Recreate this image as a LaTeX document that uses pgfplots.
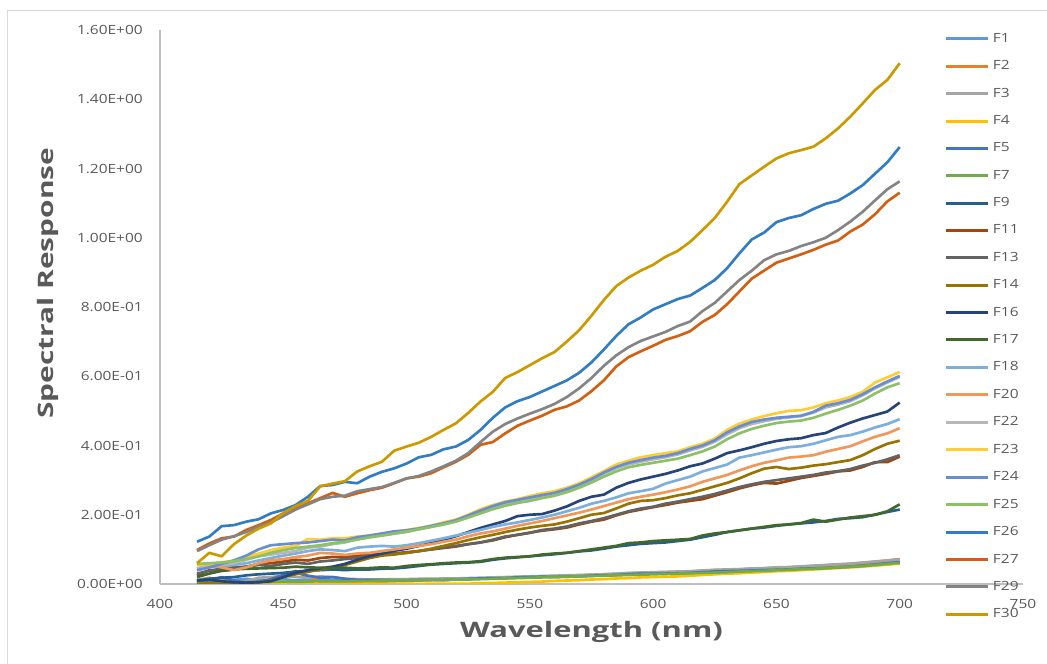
\documentclass[border=0pt]{standalone}
\usepackage{fontspec}
\setmainfont{Open Sans}
\usepackage{graphicx}
\usepackage{pgfplots}
\pgfplotsset{compat=1.18}
\definecolor{labelgray}{HTML}{595959}
\definecolor{axisgray}{HTML}{BFBFBF}
\definecolor{bordergray}{HTML}{D9D9D9}
\definecolor{cF1}{HTML}{5B9BD5}
\definecolor{cF2}{HTML}{ED7D31}
\definecolor{cF3}{HTML}{A5A5A5}
\definecolor{cF4}{HTML}{FFC000}
\definecolor{cF5}{HTML}{4472C4}
\definecolor{cF7}{HTML}{70AD47}
\definecolor{cF9}{HTML}{255E91}
\definecolor{cF11}{HTML}{9E480E}
\definecolor{cF13}{HTML}{636363}
\definecolor{cF14}{HTML}{997300}
\definecolor{cF16}{HTML}{264478}
\definecolor{cF17}{HTML}{43682B}
\definecolor{cF18}{HTML}{7CAFDD}
\definecolor{cF20}{HTML}{F1975A}
\definecolor{cF22}{HTML}{B7B7B7}
\definecolor{cF23}{HTML}{FFCD33}
\definecolor{cF24}{HTML}{698ED0}
\definecolor{cF25}{HTML}{8CC168}
\definecolor{cF26}{HTML}{327DC2}
\definecolor{cF27}{HTML}{D26012}
\definecolor{cF29}{HTML}{848484}
\definecolor{cF30}{HTML}{CC9A00}
\newcommand{\tl}[1]{\scalebox{1.22}[1]{#1}}
\begin{document}
\begin{tikzpicture}
\path[use as bounding box] (-120pt,-60pt) rectangle (665.25pt,438pt);
\draw[color=bordergray, line width=0.75pt] (-114pt,-60pt) -- (-114pt,429.75pt) -- (665.25pt,429.75pt);
\begin{axis}[
  at={(0pt,0pt)}, anchor=south west,
  scale only axis, width=647.25pt, height=415.5pt,
  xmin=400, xmax=750, ymin=0, ymax=1.6,
  axis x line=bottom, axis y line=left,
  axis line style={-, draw=axisgray, line width=0.9pt},
  major tick length=0pt,
  xtick={400,450,500,550,600,650,700,750},
  xticklabels={\tl{400},\tl{450},\tl{500},\tl{550},\tl{600},\tl{650},\tl{700},\tl{750}},
  ytick={0,0.2,0.4,0.6,0.8,1.0,1.2,1.4,1.6},
  yticklabels={\tl{0.00E+00},\tl{2.00E-01},\tl{4.00E-01},\tl{6.00E-01},\tl{8.00E-01},\tl{1.00E+00},\tl{1.20E+00},\tl{1.40E+00},\tl{1.60E+00}},
  tick label style={font=\fontsize{9.5}{11}\selectfont, text=labelgray},
  xticklabel style={anchor=north, inner sep=0pt, yshift=-11pt},
  yticklabel style={anchor=east, inner sep=0pt, xshift=-12.75pt},
  xlabel={\scalebox{1.45}[1]{Wavelength (nm)}},
  ylabel={\scalebox{1.4}[1]{Spectral Response}},
  label style={font=\bfseries\fontsize{16}{19}\selectfont, text=labelgray},
  xlabel style={at={(axis description cs:0.5,-0.0866)}, anchor=center},
  ylabel style={at={(axis description cs:-0.1298,0.543)}, anchor=center},
  legend style={draw=none, fill=none, at={(rel axis cs:0.9096,0.994)}, anchor=north west,
    inner sep=0pt, outer sep=0pt, row sep=12.2pt, column sep=2.25pt,
    font=\fontsize{9.5}{11}\selectfont, text=labelgray, nodes={inner sep=0pt}},
  legend cell align=left,
  legend image code/.code={\draw[#1, line width=2.25pt] (0pt,0pt) -- (31.5pt,0pt);},
  every axis plot/.append style={line width=2pt, line join=round},
]
\addplot[cF1] coordinates {(415,0.008)(420,0.010)(425,0.005)(430,0.012)(435,0.015)(440,0.010)(445,0.012)(450,0.014)(455,0.010)(460,0.012)
(465,0.015)(470,0.012)(475,0.010)(480,0.010)(485,0.011)(490,0.012)(495,0.012)(500,0.013)(505,0.013)(510,0.014)
(515,0.013)(520,0.014)(525,0.015)(530,0.016)(535,0.017)(540,0.018)(545,0.019)(550,0.020)(555,0.021)(560,0.022)
(565,0.022)(570,0.023)(575,0.024)(580,0.025)(585,0.027)(590,0.028)(595,0.029)(600,0.030)(605,0.030)(610,0.031)
(615,0.032)(620,0.034)(625,0.036)(630,0.037)(635,0.038)(640,0.040)(645,0.041)(650,0.042)(655,0.043)(660,0.045)
(665,0.047)(670,0.049)(675,0.051)(680,0.053)(685,0.056)(690,0.059)(695,0.062)(700,0.065)};
\addlegendentry{\tl{F1}}
\addplot[cF2] coordinates {(415,0.002)(420,0.006)(425,0.014)(430,0.005)(435,0.001)(440,0.004)(445,0.012)(450,0.022)(455,0.038)(460,0.022)
(465,0.006)(470,0.002)(475,0.003)(480,0.005)(485,0.006)(490,0.007)(495,0.008)(500,0.009)(505,0.010)(510,0.011)
(515,0.012)(520,0.013)(525,0.014)(530,0.016)(535,0.017)(540,0.018)(545,0.020)(550,0.021)(555,0.022)(560,0.023)
(565,0.024)(570,0.025)(575,0.026)(580,0.028)(585,0.029)(590,0.031)(595,0.032)(600,0.033)(605,0.034)(610,0.035)
(615,0.036)(620,0.038)(625,0.040)(630,0.041)(635,0.042)(640,0.044)(645,0.045)(650,0.047)(655,0.048)(660,0.050)
(665,0.052)(670,0.054)(675,0.056)(680,0.058)(685,0.061)(690,0.064)(695,0.068)(700,0.072)};
\addlegendentry{\tl{F2}}
\addplot[cF3] coordinates {(415,0.012)(420,0.018)(425,0.010)(430,0.004)(435,0.008)(440,0.018)(445,0.020)(450,0.024)(455,0.020)(460,0.018)
(465,0.022)(470,0.020)(475,0.015)(480,0.014)(485,0.013)(490,0.013)(495,0.014)(500,0.014)(505,0.015)(510,0.015)
(515,0.016)(520,0.016)(525,0.017)(530,0.018)(535,0.019)(540,0.020)(545,0.021)(550,0.022)(555,0.023)(560,0.024)
(565,0.025)(570,0.026)(575,0.027)(580,0.028)(585,0.030)(590,0.032)(595,0.033)(600,0.034)(605,0.035)(610,0.036)
(615,0.037)(620,0.039)(625,0.041)(630,0.042)(635,0.043)(640,0.045)(645,0.046)(650,0.048)(655,0.049)(660,0.051)
(665,0.053)(670,0.055)(675,0.057)(680,0.059)(685,0.062)(690,0.065)(695,0.068)(700,0.071)};
\addlegendentry{\tl{F3}}
\addplot[cF4] coordinates {(415,0.001)(420,0.000)(425,0.001)(430,0.000)(435,0.000)(440,0.001)(445,0.000)(450,0.000)(455,0.001)(460,0.000)
(465,0.000)(470,0.001)(475,0.000)(480,0.000)(485,0.001)(490,0.000)(495,0.000)(500,0.001)(505,0.000)(510,0.001)
(515,0.001)(520,0.001)(525,0.001)(530,0.002)(535,0.003)(540,0.004)(545,0.005)(550,0.006)(555,0.007)(560,0.009)
(565,0.010)(570,0.011)(575,0.013)(580,0.014)(585,0.016)(590,0.017)(595,0.019)(600,0.020)(605,0.021)(610,0.022)
(615,0.024)(620,0.026)(625,0.028)(630,0.030)(635,0.031)(640,0.033)(645,0.035)(650,0.037)(655,0.038)(660,0.040)
(665,0.042)(670,0.044)(675,0.046)(680,0.048)(685,0.050)(690,0.053)(695,0.056)(700,0.059)};
\addlegendentry{\tl{F4}}
\addplot[cF5] coordinates {(415,0.005)(420,0.010)(425,0.020)(430,0.010)(435,0.004)(440,0.006)(445,0.014)(450,0.026)(455,0.032)(460,0.024)
(465,0.018)(470,0.020)(475,0.015)(480,0.012)(485,0.012)(490,0.012)(495,0.011)(500,0.011)(505,0.012)(510,0.012)
(515,0.011)(520,0.013)(525,0.015)(530,0.016)(535,0.016)(540,0.017)(545,0.019)(550,0.020)(555,0.021)(560,0.020)
(565,0.021)(570,0.022)(575,0.024)(580,0.025)(585,0.026)(590,0.028)(595,0.030)(600,0.030)(605,0.030)(610,0.031)
(615,0.032)(620,0.034)(625,0.036)(630,0.037)(635,0.038)(640,0.039)(645,0.040)(650,0.041)(655,0.042)(660,0.044)
(665,0.045)(670,0.046)(675,0.048)(680,0.050)(685,0.053)(690,0.056)(695,0.060)(700,0.063)};
\addlegendentry{\tl{F5}}
\addplot[cF7] coordinates {(415,0.003)(420,0.004)(425,0.003)(430,0.005)(435,0.006)(440,0.005)(445,0.006)(450,0.007)(455,0.006)(460,0.007)
(465,0.008)(470,0.008)(475,0.008)(480,0.009)(485,0.009)(490,0.010)(495,0.010)(500,0.011)(505,0.011)(510,0.012)
(515,0.012)(520,0.013)(525,0.013)(530,0.014)(535,0.015)(540,0.016)(545,0.017)(550,0.018)(555,0.019)(560,0.020)
(565,0.021)(570,0.022)(575,0.023)(580,0.024)(585,0.025)(590,0.026)(595,0.027)(600,0.028)(605,0.029)(610,0.030)
(615,0.031)(620,0.032)(625,0.033)(630,0.034)(635,0.036)(640,0.037)(645,0.038)(650,0.040)(655,0.041)(660,0.043)
(665,0.044)(670,0.046)(675,0.048)(680,0.050)(685,0.052)(690,0.055)(695,0.058)(700,0.061)};
\addlegendentry{\tl{F7}}
\addplot[cF9] coordinates {(415,0.010)(420,0.015)(425,0.018)(430,0.020)(435,0.025)(440,0.028)(445,0.030)(450,0.032)(455,0.036)(460,0.038)
(465,0.040)(470,0.042)(475,0.040)(480,0.042)(485,0.042)(490,0.044)(495,0.045)(500,0.048)(505,0.052)(510,0.056)
(515,0.058)(520,0.060)(525,0.062)(530,0.064)(535,0.070)(540,0.074)(545,0.077)(550,0.080)(555,0.083)(560,0.086)
(565,0.090)(570,0.094)(575,0.097)(580,0.102)(585,0.108)(590,0.112)(595,0.116)(600,0.118)(605,0.120)(610,0.124)
(615,0.128)(620,0.135)(625,0.142)(630,0.150)(635,0.155)(640,0.160)(645,0.163)(650,0.168)(655,0.172)(660,0.175)
(665,0.178)(670,0.182)(675,0.188)(680,0.190)(685,0.193)(690,0.200)(695,0.208)(700,0.215)};
\addlegendentry{\tl{F9}}
\addplot[cF11] coordinates {(415,0.025)(420,0.040)(425,0.038)(430,0.042)(435,0.050)(440,0.058)(445,0.060)(450,0.065)(455,0.070)(460,0.068)
(465,0.075)(470,0.078)(475,0.078)(480,0.082)(485,0.085)(490,0.086)(495,0.088)(500,0.090)(505,0.095)(510,0.100)
(515,0.104)(520,0.108)(525,0.115)(530,0.120)(535,0.126)(540,0.135)(545,0.142)(550,0.148)(555,0.154)(560,0.158)
(565,0.163)(570,0.172)(575,0.180)(580,0.186)(585,0.198)(590,0.208)(595,0.215)(600,0.222)(605,0.228)(610,0.235)
(615,0.240)(620,0.245)(625,0.255)(630,0.265)(635,0.276)(640,0.285)(645,0.292)(650,0.290)(655,0.298)(660,0.306)
(665,0.312)(670,0.318)(675,0.325)(680,0.328)(685,0.338)(690,0.352)(695,0.352)(700,0.368)};
\addlegendentry{\tl{F11}}
\addplot[cF13] coordinates {(415,0.030)(420,0.038)(425,0.045)(430,0.048)(435,0.050)(440,0.055)(445,0.052)(450,0.058)(455,0.062)(460,0.058)
(465,0.065)(470,0.068)(475,0.072)(480,0.075)(485,0.080)(490,0.085)(495,0.088)(500,0.092)(505,0.095)(510,0.100)
(515,0.105)(520,0.110)(525,0.115)(530,0.120)(535,0.128)(540,0.137)(545,0.142)(550,0.148)(555,0.156)(560,0.160)
(565,0.166)(570,0.175)(575,0.182)(580,0.190)(585,0.200)(590,0.210)(595,0.218)(600,0.223)(605,0.232)(610,0.238)
(615,0.245)(620,0.252)(625,0.260)(630,0.270)(635,0.280)(640,0.288)(645,0.295)(650,0.300)(655,0.305)(660,0.310)
(665,0.315)(670,0.322)(675,0.326)(680,0.332)(685,0.342)(690,0.350)(695,0.360)(700,0.372)};
\addlegendentry{\tl{F13}}
\addplot[cF14] coordinates {(415,0.000)(420,0.002)(425,0.000)(430,0.002)(435,0.004)(440,0.005)(445,0.010)(450,0.020)(455,0.028)(460,0.035)
(465,0.042)(470,0.048)(475,0.055)(480,0.065)(485,0.075)(490,0.082)(495,0.085)(500,0.090)(505,0.095)(510,0.102)
(515,0.110)(520,0.118)(525,0.127)(530,0.135)(535,0.142)(540,0.150)(545,0.157)(550,0.163)(555,0.168)(560,0.172)
(565,0.180)(570,0.190)(575,0.200)(580,0.205)(585,0.218)(590,0.232)(595,0.240)(600,0.242)(605,0.248)(610,0.256)
(615,0.262)(620,0.272)(625,0.282)(630,0.292)(635,0.305)(640,0.320)(645,0.333)(650,0.338)(655,0.332)(660,0.336)
(665,0.342)(670,0.346)(675,0.352)(680,0.358)(685,0.372)(690,0.390)(695,0.405)(700,0.414)};
\addlegendentry{\tl{F14}}
\addplot[cF16] coordinates {(415,0.010)(420,0.012)(425,0.008)(430,0.005)(435,0.004)(440,0.005)(445,0.008)(450,0.020)(455,0.032)(460,0.040)
(465,0.045)(470,0.050)(475,0.058)(480,0.070)(485,0.080)(490,0.088)(495,0.096)(500,0.102)(505,0.110)(510,0.118)
(515,0.128)(520,0.138)(525,0.150)(530,0.162)(535,0.172)(540,0.182)(545,0.196)(550,0.200)(555,0.202)(560,0.212)
(565,0.224)(570,0.240)(575,0.252)(580,0.258)(585,0.278)(590,0.292)(595,0.302)(600,0.310)(605,0.318)(610,0.328)
(615,0.340)(620,0.348)(625,0.362)(630,0.378)(635,0.386)(640,0.395)(645,0.405)(650,0.413)(655,0.418)(660,0.421)
(665,0.430)(670,0.436)(675,0.452)(680,0.466)(685,0.478)(690,0.488)(695,0.498)(700,0.524)};
\addlegendentry{\tl{F16}}
\addplot[cF17] coordinates {(415,0.020)(420,0.030)(425,0.038)(430,0.042)(435,0.044)(440,0.045)(445,0.046)(450,0.047)(455,0.050)(460,0.048)
(465,0.047)(470,0.046)(475,0.047)(480,0.045)(485,0.046)(490,0.048)(495,0.047)(500,0.052)(505,0.055)(510,0.057)
(515,0.060)(520,0.062)(525,0.063)(530,0.066)(535,0.072)(540,0.076)(545,0.078)(550,0.080)(555,0.085)(560,0.088)
(565,0.090)(570,0.095)(575,0.100)(580,0.105)(585,0.110)(590,0.118)(595,0.120)(600,0.124)(605,0.126)(610,0.128)
(615,0.130)(620,0.140)(625,0.146)(630,0.150)(635,0.155)(640,0.160)(645,0.165)(650,0.170)(655,0.172)(660,0.176)
(665,0.186)(670,0.180)(675,0.186)(680,0.192)(685,0.196)(690,0.200)(695,0.210)(700,0.230)};
\addlegendentry{\tl{F17}}
\addplot[cF18] coordinates {(415,0.040)(420,0.048)(425,0.052)(430,0.055)(435,0.060)(440,0.068)(445,0.075)(450,0.082)(455,0.088)(460,0.095)
(465,0.100)(470,0.098)(475,0.095)(480,0.105)(485,0.108)(490,0.110)(495,0.108)(500,0.112)(505,0.118)(510,0.125)
(515,0.132)(520,0.140)(525,0.148)(530,0.156)(535,0.165)(540,0.172)(545,0.178)(550,0.185)(555,0.192)(560,0.200)
(565,0.210)(570,0.220)(575,0.232)(580,0.240)(585,0.250)(590,0.262)(595,0.268)(600,0.275)(605,0.290)(610,0.300)
(615,0.310)(620,0.325)(625,0.335)(630,0.345)(635,0.365)(640,0.372)(645,0.380)(650,0.388)(655,0.395)(660,0.398)
(665,0.405)(670,0.415)(675,0.425)(680,0.430)(685,0.440)(690,0.452)(695,0.462)(700,0.476)};
\addlegendentry{\tl{F18}}
\addplot[cF20] coordinates {(415,0.045)(420,0.055)(425,0.048)(430,0.040)(435,0.048)(440,0.060)(445,0.068)(450,0.072)(455,0.078)(460,0.082)
(465,0.090)(470,0.088)(475,0.084)(480,0.088)(485,0.090)(490,0.095)(495,0.100)(500,0.105)(505,0.110)(510,0.115)
(515,0.122)(520,0.128)(525,0.138)(530,0.146)(535,0.152)(540,0.160)(545,0.168)(550,0.175)(555,0.182)(560,0.190)
(565,0.198)(570,0.206)(575,0.215)(580,0.225)(585,0.235)(590,0.245)(595,0.252)(600,0.258)(605,0.265)(610,0.273)
(615,0.282)(620,0.295)(625,0.305)(630,0.315)(635,0.328)(640,0.340)(645,0.350)(650,0.357)(655,0.365)(660,0.368)
(665,0.372)(670,0.382)(675,0.390)(680,0.398)(685,0.412)(690,0.425)(695,0.435)(700,0.450)};
\addlegendentry{\tl{F20}}
\addplot[cF22] coordinates {(415,0.045)(420,0.050)(425,0.055)(430,0.060)(435,0.070)(440,0.080)(445,0.085)(450,0.090)(455,0.095)(460,0.105)
(465,0.108)(470,0.115)(475,0.120)(480,0.130)(485,0.135)(490,0.140)(495,0.145)(500,0.150)(505,0.158)(510,0.165)
(515,0.172)(520,0.182)(525,0.195)(530,0.208)(535,0.222)(540,0.233)(545,0.240)(550,0.247)(555,0.254)(560,0.260)
(565,0.270)(570,0.283)(575,0.300)(580,0.318)(585,0.334)(590,0.345)(595,0.353)(600,0.360)(605,0.366)(610,0.374)
(615,0.386)(620,0.396)(625,0.411)(630,0.432)(635,0.450)(640,0.462)(645,0.470)(650,0.477)(655,0.481)(660,0.485)
(665,0.495)(670,0.510)(675,0.518)(680,0.528)(685,0.545)(690,0.565)(695,0.582)(700,0.598)};
\addlegendentry{\tl{F22}}
\addplot[cF23] coordinates {(415,0.055)(420,0.058)(425,0.062)(430,0.068)(435,0.078)(440,0.088)(445,0.098)(450,0.105)(455,0.110)(460,0.130)
(465,0.128)(470,0.132)(475,0.132)(480,0.137)(485,0.140)(490,0.145)(495,0.150)(500,0.156)(505,0.162)(510,0.168)
(515,0.178)(520,0.186)(525,0.200)(530,0.216)(535,0.228)(540,0.238)(545,0.245)(550,0.254)(555,0.262)(560,0.268)
(565,0.278)(570,0.291)(575,0.308)(580,0.326)(585,0.345)(590,0.356)(595,0.366)(600,0.372)(605,0.378)(610,0.383)
(615,0.395)(620,0.405)(625,0.420)(630,0.445)(635,0.463)(640,0.475)(645,0.485)(650,0.493)(655,0.500)(660,0.502)
(665,0.510)(670,0.522)(675,0.530)(680,0.540)(685,0.555)(690,0.582)(695,0.597)(700,0.612)};
\addlegendentry{\tl{F23}}
\addplot[cF24] coordinates {(415,0.040)(420,0.048)(425,0.058)(430,0.068)(435,0.082)(440,0.100)(445,0.112)(450,0.115)(455,0.118)(460,0.120)
(465,0.124)(470,0.128)(475,0.126)(480,0.135)(485,0.140)(490,0.146)(495,0.152)(500,0.155)(505,0.160)(510,0.168)
(515,0.175)(520,0.184)(525,0.198)(530,0.212)(535,0.225)(540,0.236)(545,0.243)(550,0.250)(555,0.257)(560,0.263)
(565,0.274)(570,0.287)(575,0.303)(580,0.322)(585,0.338)(590,0.350)(595,0.358)(600,0.365)(605,0.370)(610,0.378)
(615,0.390)(620,0.400)(625,0.415)(630,0.438)(635,0.455)(640,0.468)(645,0.475)(650,0.480)(655,0.483)(660,0.486)
(665,0.497)(670,0.515)(675,0.522)(680,0.532)(685,0.548)(690,0.568)(695,0.585)(700,0.601)};
\addlegendentry{\tl{F24}}
\addplot[cF25] coordinates {(415,0.058)(420,0.060)(425,0.062)(430,0.066)(435,0.072)(440,0.080)(445,0.090)(450,0.098)(455,0.104)(460,0.108)
(465,0.112)(470,0.118)(475,0.122)(480,0.128)(485,0.135)(490,0.140)(495,0.146)(500,0.152)(505,0.158)(510,0.165)
(515,0.172)(520,0.180)(525,0.192)(530,0.204)(535,0.216)(540,0.226)(545,0.234)(550,0.240)(555,0.248)(560,0.255)
(565,0.265)(570,0.278)(575,0.293)(580,0.310)(585,0.325)(590,0.337)(595,0.344)(600,0.350)(605,0.356)(610,0.362)
(615,0.372)(620,0.383)(625,0.397)(630,0.418)(635,0.435)(640,0.448)(645,0.457)(650,0.465)(655,0.469)(660,0.472)
(665,0.480)(670,0.492)(675,0.503)(680,0.515)(685,0.530)(690,0.550)(695,0.568)(700,0.580)};
\addlegendentry{\tl{F25}}
\addplot[cF26] coordinates {(415,0.122)(420,0.137)(425,0.167)(430,0.170)(435,0.180)(440,0.187)(445,0.204)(450,0.214)(455,0.228)(460,0.252)
(465,0.283)(470,0.286)(475,0.295)(480,0.291)(485,0.310)(490,0.324)(495,0.334)(500,0.348)(505,0.366)(510,0.373)
(515,0.389)(520,0.397)(525,0.416)(530,0.445)(535,0.480)(540,0.510)(545,0.528)(550,0.540)(555,0.556)(560,0.572)
(565,0.588)(570,0.610)(575,0.640)(580,0.677)(585,0.716)(590,0.750)(595,0.770)(600,0.793)(605,0.808)(610,0.823)
(615,0.833)(620,0.855)(625,0.878)(630,0.912)(635,0.955)(640,0.995)(645,1.015)(650,1.045)(655,1.057)(660,1.065)
(665,1.083)(670,1.098)(675,1.107)(680,1.128)(685,1.152)(690,1.185)(695,1.218)(700,1.262)};
\addlegendentry{\tl{F26}}
\addplot[cF27] coordinates {(415,0.098)(420,0.117)(425,0.132)(430,0.137)(435,0.156)(440,0.170)(445,0.185)(450,0.204)(455,0.219)(460,0.233)
(465,0.248)(470,0.263)(475,0.252)(480,0.262)(485,0.271)(490,0.278)(495,0.291)(500,0.305)(505,0.310)(510,0.320)
(515,0.337)(520,0.353)(525,0.373)(530,0.402)(535,0.410)(540,0.435)(545,0.457)(550,0.472)(555,0.486)(560,0.503)
(565,0.513)(570,0.530)(575,0.557)(580,0.588)(585,0.628)(590,0.655)(595,0.672)(600,0.688)(605,0.705)(610,0.716)
(615,0.730)(620,0.757)(625,0.777)(630,0.808)(635,0.845)(640,0.882)(645,0.905)(650,0.928)(655,0.940)(660,0.952)
(665,0.965)(670,0.980)(675,0.992)(680,1.018)(685,1.038)(690,1.068)(695,1.105)(700,1.130)};
\addlegendentry{\tl{F27}}
\addplot[cF29] coordinates {(415,0.095)(420,0.112)(425,0.128)(430,0.138)(435,0.150)(440,0.165)(445,0.178)(450,0.196)(455,0.215)(460,0.230)
(465,0.245)(470,0.252)(475,0.255)(480,0.268)(485,0.274)(490,0.280)(495,0.292)(500,0.305)(505,0.312)(510,0.325)
(515,0.340)(520,0.356)(525,0.378)(530,0.410)(535,0.440)(540,0.462)(545,0.478)(550,0.492)(555,0.505)(560,0.520)
(565,0.540)(570,0.565)(575,0.595)(580,0.630)(585,0.660)(590,0.684)(595,0.702)(600,0.715)(605,0.728)(610,0.745)
(615,0.758)(620,0.788)(625,0.812)(630,0.845)(635,0.878)(640,0.905)(645,0.935)(650,0.952)(655,0.962)(660,0.976)
(665,0.987)(670,1.000)(675,1.022)(680,1.047)(685,1.075)(690,1.108)(695,1.140)(700,1.163)};
\addlegendentry{\tl{F29}}
\addplot[cF30] coordinates {(415,0.060)(420,0.090)(425,0.080)(430,0.115)(435,0.140)(440,0.160)(445,0.175)(450,0.205)(455,0.225)(460,0.240)
(465,0.282)(470,0.290)(475,0.297)(480,0.325)(485,0.340)(490,0.353)(495,0.385)(500,0.397)(505,0.408)(510,0.425)
(515,0.445)(520,0.464)(525,0.494)(530,0.527)(535,0.555)(540,0.595)(545,0.612)(550,0.632)(555,0.652)(560,0.670)
(565,0.700)(570,0.733)(575,0.775)(580,0.820)(585,0.860)(590,0.885)(595,0.905)(600,0.922)(605,0.945)(610,0.962)
(615,0.988)(620,1.022)(625,1.057)(630,1.104)(635,1.155)(640,1.180)(645,1.205)(650,1.229)(655,1.244)(660,1.253)
(665,1.263)(670,1.287)(675,1.316)(680,1.350)(685,1.388)(690,1.427)(695,1.456)(700,1.504)};
\addlegendentry{\tl{F30}}
\end{axis}
\end{tikzpicture}
\end{document}
